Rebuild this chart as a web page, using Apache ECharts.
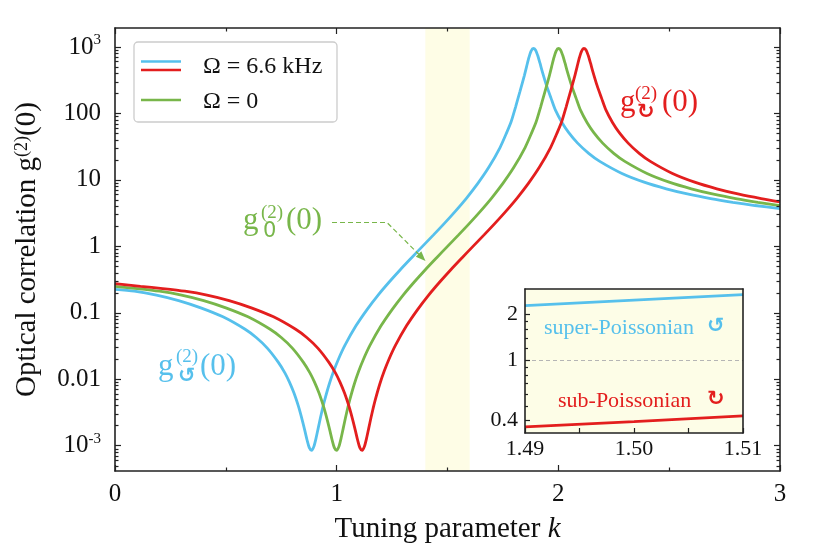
<!DOCTYPE html>
<html><head><meta charset="utf-8">
<script src="https://cdn.jsdelivr.net/npm/echarts@6/dist/echarts.min.js"></script>
<style>html,body{margin:0;padding:0;background:#fff}#c{width:814px;height:554px}</style>
</head><body><div id="c"></div>
<script>
// ---------- data ----------
const greenK = [0,0.1,0.2,0.3,0.4,0.5,0.6,0.7,0.75,0.8,0.85,0.88,0.9,0.92,0.94,0.95,0.96,0.97,0.98,0.99,1.0,1.01,1.02,1.03,1.04,1.05,1.06,1.08,1.1,1.12,1.15,1.2,1.25,1.3,1.35,1.4,1.45,1.5,1.55,1.6,1.65,1.7,1.75,1.8,1.85,1.88,1.9,1.92,1.94,1.96,1.97,1.98,1.99,2.0,2.01,2.02,2.03,2.04,2.06,2.08,2.1,2.13,2.16,2.2,2.25,2.3,2.4,2.5,2.6,2.7,2.8,2.9,3.0];
const greenG = [0.250,0.232,0.212,0.185,0.153,0.119,0.0870,0.0565,0.0425,0.0295,0.0180,0.0124,0.00905,0.00625,0.00398,0.00305,0.00227,0.00166,0.00120,0.00093,0.00085,0.00097,0.00130,0.00186,0.00266,0.00371,0.00503,0.00856,0.0134,0.0197,0.0323,0.0637,0.112,0.185,0.291,0.446,0.670,1.00,1.49,2.24,3.43,5.39,8.87,15.6,30.7,51.5,75,125,215,375,510,690,870,950,905,745,575,435,262,170,112,72.5,51.5,35.8,25.1,19.0,12.5,9.25,7.35,6.10,5.24,4.61,4.12];

const blueK = [0,0.087,0.187,0.287,0.387,0.487,0.587,0.637,0.687,0.737,0.767,0.787,0.807,0.827,0.837,0.847,0.857,0.867,0.877,0.887,0.897,0.907,0.917,0.927,0.937,0.947,0.967,0.987,1.007,1.037,1.087,1.137,1.187,1.237,1.287,1.337,1.387,1.437,1.487,1.537,1.587,1.637,1.687,1.737,1.767,1.787,1.807,1.827,1.847,1.857,1.867,1.877,1.887,1.897,1.907,1.917,1.927,1.947,1.967,1.987,2.017,2.047,2.087,2.137,2.187,2.287,2.387,2.487,2.587,2.687,2.787,2.887,3.0];
const blueG = [0.226,0.212,0.185,0.153,0.119,0.0870,0.0565,0.0425,0.0295,0.0180,0.0124,0.00905,0.00625,0.00398,0.00305,0.00227,0.00166,0.00120,0.00093,0.00085,0.00097,0.00130,0.00186,0.00266,0.00371,0.00503,0.00856,0.0134,0.0197,0.0323,0.0637,0.112,0.185,0.291,0.446,0.670,1.00,1.49,2.24,3.43,5.39,8.87,15.6,30.7,51.5,75,125,215,375,510,690,870,950,905,745,575,435,262,170,112,72.5,51.5,35.8,25.1,19.0,12.5,9.25,7.35,6.10,5.24,4.61,4.12,3.70];

const redK = [0,0.115,0.215,0.315,0.415,0.515,0.615,0.715,0.815,0.865,0.915,0.965,0.995,1.015,1.035,1.055,1.065,1.075,1.085,1.095,1.105,1.115,1.125,1.135,1.145,1.155,1.165,1.175,1.195,1.215,1.235,1.265,1.315,1.365,1.415,1.465,1.515,1.565,1.615,1.665,1.715,1.765,1.815,1.865,1.915,1.965,1.995,2.015,2.035,2.055,2.075,2.085,2.095,2.105,2.115,2.125,2.135,2.145,2.155,2.175,2.195,2.215,2.245,2.275,2.315,2.365,2.415,2.515,2.615,2.715,2.815,2.915,3.0];
const redG = [0.276,0.250,0.232,0.212,0.185,0.153,0.119,0.0870,0.0565,0.0425,0.0295,0.0180,0.0124,0.00905,0.00625,0.00398,0.00305,0.00227,0.00166,0.00120,0.00093,0.00085,0.00097,0.00130,0.00186,0.00266,0.00371,0.00503,0.00856,0.0134,0.0197,0.0323,0.0637,0.112,0.185,0.291,0.446,0.670,1.00,1.49,2.24,3.43,5.39,8.87,15.6,30.7,51.5,75,125,215,375,510,690,870,950,905,745,575,435,262,170,112,72.5,51.5,35.8,25.1,19.0,12.5,9.25,7.35,6.10,5.24,4.68];

const insetK = [1.49,1.50,1.51];
const insetBlue = [2.29,2.49,2.71];
const insetRed = [0.363,0.393,0.430];

const xTickValues = [0,1,2,3];
const yTickValues = [0.001,0.01,0.1,1,10,100,1000];
const yTickLabels = ['10^-3','0.01','0.1','1','10','100','10^3'];
const insetXTickValues = [1.49,1.495,1.50,1.505,1.51];
const insetXLabelValues = [1.49,1.50,1.51];
const insetYTickValues = [0.4,1,2];
const insetYTickLabels = ['0.4','1','2'];
const insetYMinorValues = [0.5,0.6,0.7,0.8,0.9,1.2,1.4,1.6,1.8];
const band = [1.4,1.6];

// ---------- styling ----------
const SERIF = '"Liberation Serif","Times New Roman",serif';
const BLUE = '#56C0EC', GREEN = '#78B64A', RED = '#E31E1E', INK = '#111';
const L = Math.log10;
const Y_MIN = -3.38, Y_MAX = 3.286;
const IY_MIN = -0.48, IY_MAX = 0.47;
const pts = (ks, gs) => ks.map((k, i) => [k, L(gs[i])]);

const yMajor = yTickValues.map(L);
const yMinor = [];
for (let e = -4; e <= 3; e++) for (let m = 2; m <= 9; m++) {
  const v = L(m) + e; if (v > Y_MIN && v < Y_MAX) yMinor.push(v);
}
const iyMajor = insetYTickValues.map(L);
const iyMinor = insetYMinorValues.map(L);

const tickStyle = {color: '#222', width: 1.2};
const lineStyleAx = {color: '#222', width: 1.6};

function yFmt(v) {
  const i = yMajor.findIndex(t => Math.abs(t - v) < 1e-6);
  if (i < 0) return '';
  const s = yTickLabels[i];
  if (s.indexOf('^') >= 0) { const p = s.split('^'); return '{b|' + p[0] + '}{s|' + p[1] + '}'; }
  return '{b|' + s + '}';
}
function iyFmt(v) {
  const i = iyMajor.findIndex(t => Math.abs(t - v) < 1e-6);
  return i < 0 ? '' : insetYTickLabels[i];
}

const baseY = (extra) => Object.assign({
  gridIndex: 0, type: 'value', min: Y_MIN, max: Y_MAX,
  splitLine: {show: false}, axisLabel: {show: false},
  axisLine: {show: false, onZero: false}, z: 10
}, extra);

const option = {
  animation: false,
  backgroundColor: '#fff',
  grid: [
    {left: 115, top: 28, width: 665, height: 443},
    {left: 525, top: 289, width: 218, height: 144, show: true, backgroundColor: '#fdfde7', borderWidth: 0}
  ],
  xAxis: [
    {gridIndex: 0, type: 'value', min: 0, max: 3, interval: 1, position: 'bottom',
     axisLine: {show: true, onZero: false, lineStyle: lineStyleAx},
     axisTick: {inside: true, length: 6, lineStyle: tickStyle},
     minorTick: {show: true, splitNumber: 2, length: 3.5, lineStyle: tickStyle},
     splitLine: {show: false}, minorSplitLine: {show: false},
     axisLabel: {margin: 11, fontSize: 25, color: INK, fontFamily: SERIF},
     name: 'Tuning parameter {i|k}', nameLocation: 'middle', nameGap: 44,
     nameTextStyle: {fontSize: 29, color: INK, fontFamily: SERIF,
       rich: {i: {fontSize: 29, fontStyle: 'italic', color: INK, fontFamily: SERIF}}},
     z: 10},
    {gridIndex: 0, type: 'value', min: 0, max: 3, interval: 1, position: 'top',
     axisLine: {show: true, onZero: false, lineStyle: lineStyleAx},
     axisTick: {inside: true, length: 6, lineStyle: tickStyle},
     minorTick: {show: true, splitNumber: 2, length: 3.5, lineStyle: tickStyle},
     splitLine: {show: false}, minorSplitLine: {show: false},
     axisLabel: {show: false}, z: 10},
    {gridIndex: 1, type: 'value', min: 1.49, max: 1.51, position: 'bottom',
     axisLine: {show: true, onZero: false, lineStyle: lineStyleAx},
     axisTick: {inside: true, length: 5, lineStyle: tickStyle, customValues: insetXTickValues},
     splitLine: {show: false},
     axisLabel: {customValues: insetXLabelValues, formatter: v => v.toFixed(2),
       margin: 5, fontSize: 22, color: INK, fontFamily: SERIF},
     z: 10},
    {gridIndex: 1, type: 'value', min: 1.49, max: 1.51, position: 'top',
     axisLine: {show: true, onZero: false, lineStyle: lineStyleAx},
     axisTick: {show: false}, splitLine: {show: false}, axisLabel: {show: false}, z: 10}
  ],
  yAxis: [
    baseY({position: 'left',
      axisLine: {show: true, onZero: false, lineStyle: lineStyleAx},
      axisTick: {inside: true, length: 6, lineStyle: tickStyle, customValues: yMajor},
      axisLabel: {show: true, customValues: yMajor, formatter: yFmt, margin: 14,
        rich: {b: {fontSize: 25, color: INK, fontFamily: SERIF, lineHeight: 28},
               s: {fontSize: 15, color: INK, fontFamily: SERIF, verticalAlign: 'top', lineHeight: 18}}},
      name: 'Optical correlation g{s|(2)}(0)', nameLocation: 'middle', nameGap: 73, nameRotate: 90,
      nameTextStyle: {fontSize: 29, color: INK, fontFamily: SERIF,
        rich: {s: {fontSize: 18, color: INK, fontFamily: SERIF, verticalAlign: 'top', lineHeight: 20}}}
    }),
    baseY({position: 'left',
      axisTick: {inside: true, length: 3.5, lineStyle: tickStyle, customValues: yMinor}}),
    baseY({position: 'right',
      axisLine: {show: true, onZero: false, lineStyle: lineStyleAx},
      axisTick: {inside: true, length: 6, lineStyle: tickStyle, customValues: yMajor}}),
    baseY({position: 'right',
      axisTick: {inside: true, length: 3.5, lineStyle: tickStyle, customValues: yMinor}}),
    {gridIndex: 1, type: 'value', min: IY_MIN, max: IY_MAX, position: 'left',
     axisLine: {show: true, onZero: false, lineStyle: lineStyleAx},
     axisTick: {inside: true, length: 5, lineStyle: tickStyle, customValues: iyMajor},
     axisLabel: {customValues: iyMajor, formatter: iyFmt, margin: 7, fontSize: 22, color: INK, fontFamily: SERIF},
     splitLine: {show: false}, z: 10},
    {gridIndex: 1, type: 'value', min: IY_MIN, max: IY_MAX, position: 'left',
     axisLine: {show: false, onZero: false},
     axisTick: {inside: true, length: 3, lineStyle: tickStyle, customValues: iyMinor},
     axisLabel: {show: false}, splitLine: {show: false}, z: 10},
    {gridIndex: 1, type: 'value', min: IY_MIN, max: IY_MAX, position: 'right',
     axisLine: {show: true, onZero: false, lineStyle: lineStyleAx},
     axisTick: {show: false}, axisLabel: {show: false}, splitLine: {show: false}, z: 10}
  ],
  series: [
    {type: 'line', name: 'Ω = 6.6 kHz (ccw)', xAxisIndex: 0, yAxisIndex: 0,
     data: pts(blueK, blueG), showSymbol: false, smooth: 0.25,
     lineStyle: {color: BLUE, width: 2.8}, itemStyle: {color: BLUE},
     markArea: {silent: true, z: 1, itemStyle: {color: '#fefde6'},
       data: [[{xAxis: band[0]}, {xAxis: band[1]}]]}},
    {type: 'line', name: 'Ω = 0', xAxisIndex: 0, yAxisIndex: 0,
     data: pts(greenK, greenG), showSymbol: false, smooth: 0.25,
     lineStyle: {color: GREEN, width: 2.8}, itemStyle: {color: GREEN}},
    {type: 'line', name: 'Ω = 6.6 kHz (cw)', xAxisIndex: 0, yAxisIndex: 0,
     data: pts(redK, redG), showSymbol: false, smooth: 0.25,
     lineStyle: {color: RED, width: 2.8}, itemStyle: {color: RED}},
    {type: 'line', xAxisIndex: 2, yAxisIndex: 4, data: pts(insetK, insetBlue),
     showSymbol: false, lineStyle: {color: BLUE, width: 2.8}},
    {type: 'line', xAxisIndex: 2, yAxisIndex: 4, data: pts(insetK, insetRed),
     showSymbol: false, lineStyle: {color: RED, width: 2.8},
     markLine: {silent: true, symbol: 'none', label: {show: false},
       lineStyle: {color: '#b5b5b5', width: 1, type: [4, 3]},
       data: [{yAxis: 0}]}}
  ],
  graphic: []
};

// ---------- annotations / legend ----------
function txt(x, y, text, size, color, extra) {
  return {type: 'text', x: x, y: y, z: 100, silent: true,
    style: Object.assign({text: text, fontSize: size, fontFamily: SERIF, fill: color,
      align: 'left', verticalAlign: 'middle', textAlign: 'left', textVerticalAlign: 'middle'}, extra || {})};
}
const SYM = '"DejaVu Sans",sans-serif';
const G = option.graphic;
// legend
G.push({type: 'rect', z: 100, silent: true, shape: {x: 134, y: 42, width: 203, height: 80, r: 4},
  style: {fill: '#fff', stroke: '#cccccc', lineWidth: 1.3}});
G.push({type: 'line', z: 101, silent: true, shape: {x1: 141, y1: 61.5, x2: 181, y2: 61.5}, style: {stroke: BLUE, lineWidth: 2.4}});
G.push({type: 'line', z: 101, silent: true, shape: {x1: 141, y1: 70, x2: 181, y2: 70}, style: {stroke: RED, lineWidth: 2.4}});
G.push({type: 'line', z: 101, silent: true, shape: {x1: 141, y1: 100, x2: 181, y2: 100}, style: {stroke: GREEN, lineWidth: 2.4}});
G.push(Object.assign(txt(203, 67, 'Ω = 6.6 kHz', 24, INK), {z: 101}));
G.push(Object.assign(txt(203, 102, 'Ω = 0', 24, INK), {z: 101}));
// green annotation g_0^(2)(0)
G.push(txt(243, 221, 'g', 31, GREEN));
G.push(txt(261, 213, '(2)', 19, GREEN));
G.push(txt(263, 232, '0', 21, GREEN, {fontFamily: SYM}));
G.push(txt(286, 221, '(0)', 31, GREEN));
// blue annotation
G.push(txt(158, 367, 'g', 31, BLUE));
G.push(txt(176, 357, '(2)', 19, BLUE));
G.push(txt(178, 377, '↺', 21, BLUE, {fontFamily: SYM, fontWeight: 'bold'}));
G.push(txt(200, 367, '(0)', 31, BLUE));
// red annotation
G.push(txt(620, 103, 'g', 31, RED));
G.push(txt(635, 94, '(2)', 19, RED));
G.push(txt(637, 113, '↻', 21, RED, {fontFamily: SYM, fontWeight: 'bold'}));
G.push(txt(662, 103, '(0)', 31, RED));
// dashed arrow
G.push({type: 'polyline', z: 100, silent: true, shape: {points: [[332, 222.5], [387, 222.5], [419, 254.5]]},
  style: {stroke: GREEN, lineWidth: 1.2, lineDash: [5, 3], fill: null}});
G.push({type: 'polygon', z: 100, silent: true, shape: {points: [[425.5, 261], [415.8, 256.8], [421.3, 251.3]]},
  style: {fill: GREEN}});
// inset labels
G.push(txt(544, 328, 'super-Poissonian', 22, BLUE));
G.push(txt(707, 327, '↺', 21, BLUE, {fontFamily: SYM, fontWeight: 'bold'}));
G.push(txt(558, 401, 'sub-Poissonian', 22, RED));
G.push(txt(707, 400, '↻', 21, RED, {fontFamily: SYM, fontWeight: 'bold'}));

const chart = echarts.init(document.getElementById('c'), null, {renderer: 'canvas'});
chart.setOption(option);
</script></body></html>
